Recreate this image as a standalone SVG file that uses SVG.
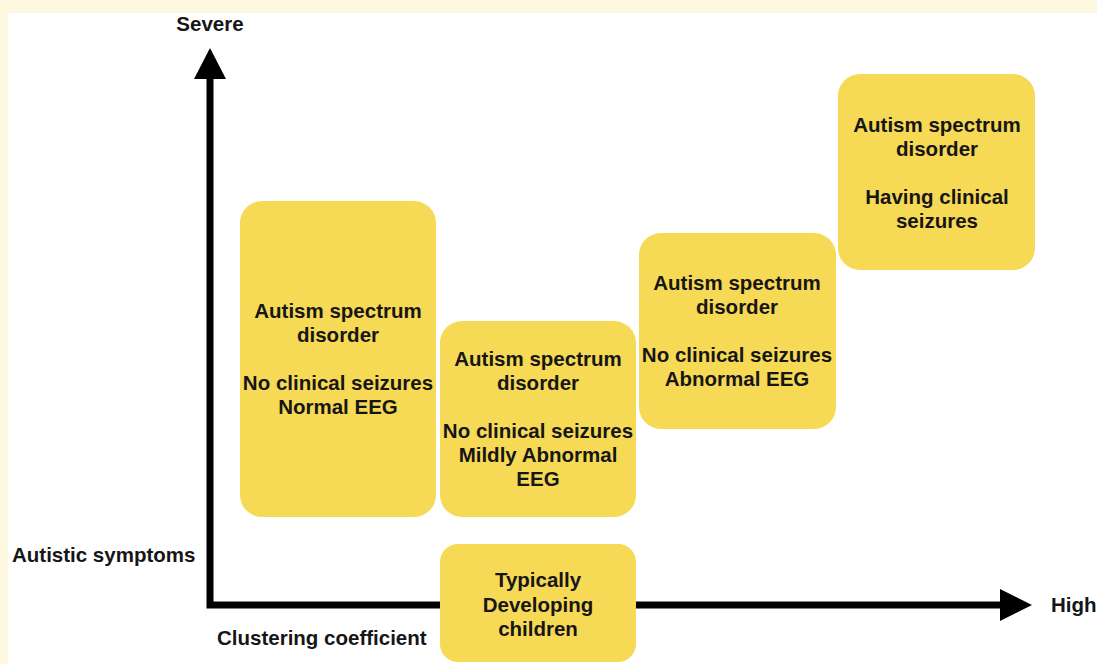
<svg xmlns="http://www.w3.org/2000/svg" width="1097" height="664" viewBox="0 0 1097 664">
<defs>
<style>
.box{fill:#f6d955;}
.t{font-family:"Liberation Sans",Arial,sans-serif;font-weight:bold;font-size:20.5px;fill:#161616;}
.c{text-anchor:middle;}
.ax{stroke:#000;stroke-width:7;fill:none;}
</style>
</defs>
<rect x="0" y="0" width="1097" height="664" fill="#fef7e0"/>
<rect x="8" y="13" width="1089" height="651" fill="#ffffff"/>
<g id="connectors">
<polyline class="ax" points="210,76 210,605 1002,605"/>
<polygon points="194,79 210,48 226,79" fill="#000"/>
<polygon points="1000,589 1032,605 1000,621" fill="#000"/>
</g>
<g id="axis-labels">
<text class="t c" x="210" y="31">Severe</text>
<text class="t" x="12" y="562">Autistic symptoms</text>
<text class="t" x="217" y="645">Clustering coefficient</text>
<text class="t" x="1051" y="612">High</text>
</g>
<g id="node-normal">
<rect class="box" x="240" y="201" width="196" height="316" rx="22"/>
<text class="t c" x="338" y="318">Autism spectrum</text>
<text class="t c" x="338" y="342">disorder</text>
<text class="t c" x="338" y="390">No clinical seizures</text>
<text class="t c" x="338" y="414">Normal EEG</text>
</g>
<g id="node-mild">
<rect class="box" x="440" y="321" width="196" height="196" rx="22"/>
<text class="t c" x="538" y="366">Autism spectrum</text>
<text class="t c" x="538" y="390">disorder</text>
<text class="t c" x="538" y="438">No clinical seizures</text>
<text class="t c" x="538" y="462">Mildly Abnormal</text>
<text class="t c" x="538" y="486">EEG</text>
</g>
<g id="node-abnormal">
<rect class="box" x="639" y="233" width="197" height="196" rx="22"/>
<text class="t c" x="737" y="290">Autism spectrum</text>
<text class="t c" x="737" y="314">disorder</text>
<text class="t c" x="737" y="362">No clinical seizures</text>
<text class="t c" x="737" y="386">Abnormal EEG</text>
</g>
<g id="node-seizures">
<rect class="box" x="838" y="74" width="197" height="196" rx="22"/>
<text class="t c" x="937" y="132">Autism spectrum</text>
<text class="t c" x="937" y="156">disorder</text>
<text class="t c" x="937" y="204">Having clinical</text>
<text class="t c" x="937" y="228">seizures</text>
</g>
<g id="node-typical">
<rect class="box" x="440" y="544" width="196" height="118" rx="18"/>
<text class="t c" x="538" y="587">Typically</text>
<text class="t c" x="538" y="612">Developing</text>
<text class="t c" x="538" y="636">children</text>
</g>
</svg>
